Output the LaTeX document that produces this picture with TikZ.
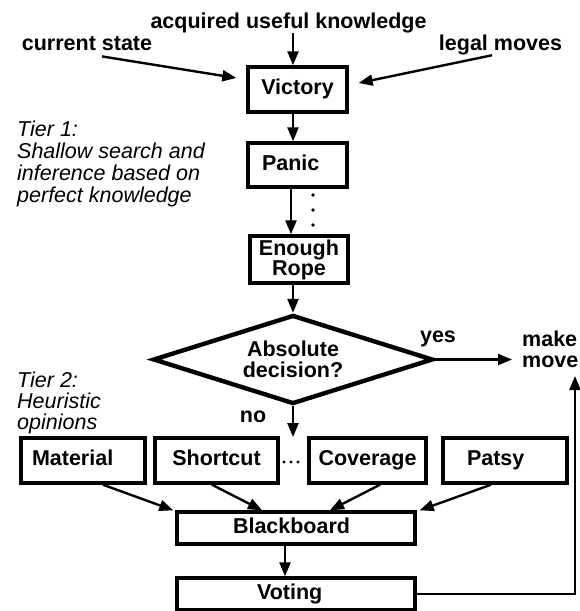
\documentclass[tikz,border=0pt]{standalone}
\usepackage{fontspec}
\setmainfont{Liberation Sans}
\usetikzlibrary{arrows.meta,shapes.geometric}
\begin{document}
\begin{tikzpicture}[x=1pt,y=-1pt,
  every node/.style={font=\fontsize{21.5}{20}\selectfont\bfseries, inner sep=0pt},
  box/.style={draw, line width=3.4pt},
  onel/.style={text height=15.4pt, text depth=4.5pt},
  conn/.style={line width=2.4pt},
  arr/.style={conn, -{Triangle[length=14pt,width=11pt]}},
  note/.style={font=\fontsize{21.5}{22}\selectfont\mdseries\itshape, align=left, anchor=north west},
  dotmark/.style={fill=black},
]
\useasboundingbox (0,0) rectangle (580,611);

% main vertical line of the flow
\coordinate (spine) at (293,0);
\coordinate (spineB) at (291,0);

% inputs
\node[anchor=base] (acq) at (288.5,28) {acquired useful knowledge};
\node[anchor=base] (cur) at (87,50) {current state};
\node[anchor=base] (leg) at (500.5,50) {legal moves};

% tier 1 boxes
\node[box, onel, minimum width=99pt, minimum height=45pt] (vic) at (297.5,89.5) {Victory};
\node[box, onel, minimum width=99pt, minimum height=44pt, text width=71pt, align=left] (pan) at (297.5,165) {Panic};
\node[box, minimum width=98pt, minimum height=47pt, align=center] (rope) at (299,259.5) {Enough\\Rope};

\foreach \yy in {195,210,225} \fill[dotmark] (313,\yy) circle (1.8pt);

% decision
\node[diamond, draw, line width=4.4pt, aspect=3.1, minimum width=280pt, minimum height=89pt,
      font=\fontsize{21.5}{21.5}\selectfont\bfseries, align=center] (dec) at (293,359.5) {Absolute\\decision?};
\node[anchor=base] (yes) at (438,342) {yes};
\node[anchor=base] (no) at (253,422) {no};
\node[anchor=west, align=left, font=\fontsize{21.5}{21}\selectfont\bfseries] (mm) at (522,349.7) {make\\move};
\coordinate (noEnd) at (293,437);
\coordinate (mmIn) at (575,376);

% tier 2 opinions
\node[box, onel, minimum width=124pt, minimum height=45pt, text width=102pt, align=left] (mat) at (83,460.5) {Material};
\node[box, onel, minimum width=123pt, minimum height=45pt] (sho) at (216.5,460.5) {Shortcut};
\node[box, onel, minimum width=117pt, minimum height=45pt] (cov) at (367.5,460.5) {Coverage};
\node[box, onel, minimum width=124pt, minimum height=45pt, text width=76pt, align=left] (pat) at (505,460.5) {Patsy};
\foreach \xx in {284,291,298} \fill[dotmark] (\xx,462) circle (1.7pt);

\node[box, onel, minimum width=238pt, minimum height=32pt, text width=126pt, align=left] (bb) at (296,528) {Blackboard};
\node[box, onel, minimum width=238pt, minimum height=32pt, text width=78pt, align=left] (vot) at (296,594) {Voting};

% tier labels
\node[note] (t1) at (17,120.6) {Tier 1:\\Shallow search and\\inference based on\\perfect knowledge};
\node[note, font=\fontsize{21.5}{21}\selectfont\mdseries\itshape] (t2) at (17,371.6) {Tier 2:\\Heuristic\\opinions};

% connectors
\draw[arr] (spine |- acq.south) -- (spine |- vic.north);
\draw[arr] ([shift={(15,6)}]cur.south) -- ([shift={(-10,-11.5)}]vic.west);
\draw[arr] ([shift={(-8.5,0.5)}]leg.south) -- ([shift={(10,-6.5)}]vic.east);
\draw[arr] (spine |- vic.south) -- (spine |- pan.north);
\draw[arr] (spineB |- pan.south) -- (spineB |- rope.north);
\draw[arr] (spine |- rope.south) -- (dec.north);
\draw[arr] (dec.east) -- ([xshift=-10pt]mm.west |- dec.east);
\draw[arr] (dec.south) -- (noEnd);
\draw[arr] ([xshift=20pt]mat.south) -- ([xshift=-2pt]bb.north west);
\draw[arr] ([xshift=-4.5pt]sho.south) -- ([xshift=-34pt]bb.north);
\draw[arr] ([xshift=12.5pt]cov.south) -- ([xshift=34pt]bb.north);
\draw[arr] ([xshift=-14pt]pat.south) -- ([xshift=3pt]bb.north east);
\draw[arr] ([xshift=-11pt]bb.south) -- ([xshift=-11pt]vot.north);
\draw[arr] (vot.east) -| (mmIn);
\end{tikzpicture}
\end{document}
